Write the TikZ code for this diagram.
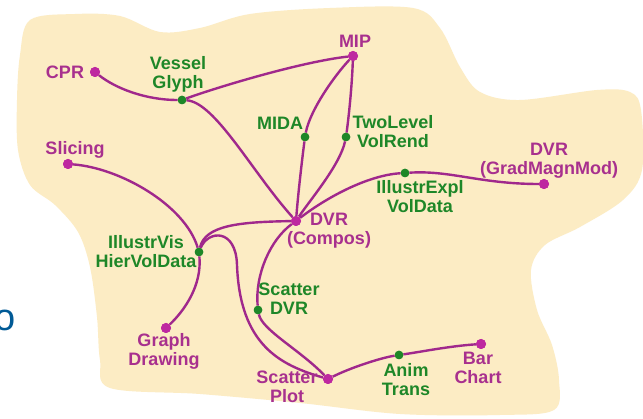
\documentclass[tikz,border=0pt]{standalone}
\usepackage{fontspec}
\setmainfont{Liberation Sans}
\begin{document}
\begin{tikzpicture}[x=1pt,y=-1pt,
  lbl/.style={font=\bfseries\fontsize{18}{19}\selectfont, align=center, inner sep=0pt},
  magtext/.style={lbl, text=magtxt},
  grntext/.style={lbl, text=grn},
  dot/.style={circle, fill=magdot, inner sep=0pt, minimum size=10pt},
  gmark/.style={circle, fill=grn, inner sep=0pt, minimum size=8.5pt},
  link/.style={draw=magline, line width=2.4pt}]
\definecolor{beige}{RGB}{252,236,196}
\definecolor{magtxt}{RGB}{168,48,142}
\definecolor{magline}{RGB}{160,40,140}
\definecolor{magdot}{RGB}{190,40,160}
\definecolor{grn}{RGB}{30,135,40}
\definecolor{bluetxt}{RGB}{0,90,150}

\useasboundingbox (0,0) rectangle (643,419);
\fill[white] (0,0) rectangle (643,419);

% background blob
\fill[beige] plot[smooth cycle, tension=0.55] coordinates {
  (30,20) (75,14) (120,16) (160,32) (200,28) (250,14) (330,8) (413,8)
  (440,28) (460,67) (480,92) (520,100) (597,90) (630,92) (641,110)
  (642,170) (623,200) (580,227) (545,245) (531,270) (537,310) (552,345)
  (559,380) (554,410) (500,415) (400,414) (300,403) (200,394) (110,388)
  (100,360) (97,317) (90,267) (78,232) (55,205) (30,185) (18,150)
  (17,100) (20,55)};

% partial letter at the left margin
\node[anchor=east, inner sep=0pt, text=bluetxt, font=\fontsize{38}{38}\selectfont] (blue) at (15.5,320) {o};

% end points
\node[dot] (cpr)   at (95,72)  {};
\node[dot] (mip)   at (353,56) {};
\node[dot] (slic)  at (68,164) {};
\node[dot] (dvrg)  at (544,184) {};
\node[dot] (dvrc)  at (296,221) {};
\node[dot] (graph) at (166,328) {};
\node[dot] (splot) at (328,379) {};
\node[dot] (bar)   at (481,344) {};

% intermediate techniques
\node[gmark] (vg)   at (182,100) {};
\node[gmark] (mida) at (305,137) {};
\node[gmark] (two)  at (346,137) {};
\node[gmark] (iev)  at (405,173) {};
\node[gmark] (ivh)  at (199,252) {};
\node[gmark] (sdvr) at (258,310) {};
\node[gmark] (anim) at (399,355) {};

% connections
\path[link] (cpr) .. controls (115,88) and (145,100) .. (vg);
\path[link] (vg) .. controls (215,88) and (300,62) .. (mip);
\path[link] (vg) .. controls (215,102) and (252,172) .. (dvrc);
\path[link] (mip) .. controls (335,75) and (310,110) .. (mida);
\path[link] (mida) .. controls (302,160) and (298,195) .. (dvrc);
\path[link] (mip) .. controls (352,85) and (349,115) .. (two);
\path[link] (two) .. controls (340,165) and (310,200) .. (dvrc);
\path[link] (dvrc) .. controls (330,195) and (370,175) .. (iev);
\path[link] (iev) .. controls (450,170) and (480,184) .. (dvrg);
\path[link] (dvrc) .. controls (240,222) and (205,225) .. (ivh);
\path[link] (slic) .. controls (120,168) and (185,205) .. (ivh);
\path[link] (ivh) .. controls (202,285) and (185,310) .. (graph);
\path[link] (ivh) .. controls (208,230) and (236,228) .. (237,265)
               .. controls (240,345) and (280,365) .. (splot);
\path[link] (dvrc) .. controls (270,240) and (255,275) .. (sdvr);
\path[link] (sdvr) .. controls (262,330) and (300,350) .. (splot);
\path[link] (splot) .. controls (350,368) and (380,358) .. (anim);
\path[link] (anim) .. controls (420,352) and (450,346) .. (bar);

% redraw the points on top of the lines
\foreach \n in {cpr,mip,slic,dvrg,dvrc,graph,splot,bar}
  \node[dot] at (\n) {};
\foreach \n in {vg,mida,two,iev,ivh,sdvr,anim}
  \node[gmark] at (\n) {};

% labels
\node[magtext] (lcpr)   at (65,72)   {CPR};
\node[magtext] (lmip)   at (355,41)  {MIP};
\node[magtext] (lslic)  at (75,150)  {Slicing};
\node[magtext] (ldvrg)  at (549,161) {DVR\\(GradMagnMod)};
\node[magtext] (ldvrc)  at (329,231) {DVR\\(Compos)};
\node[magtext] (lgraph) at (164,351) {Graph\\Drawing};
\node[magtext] (lsplot) at (287,387) {Scatter\\Plot};
\node[magtext] (lbar)   at (478,368) {Bar\\Chart};
\node[grntext] (lvg)    at (178,74)  {Vessel\\Glyph};
\node[grntext] (lmida)  at (280,123) {MIDA};
\node[grntext] (ltwo)   at (393,132) {TwoLevel\\VolRend};
\node[grntext] (liev)   at (420,197) {IllustrExpl\\VolData};
\node[grntext] (livh)   at (146,252) {IllustrVis\\HierVolData};
\node[grntext] (lsdvr)  at (289,299) {Scatter\\DVR};
\node[grntext] (lanim)  at (406,380) {Anim\\Trans};
\end{tikzpicture}
\end{document}
